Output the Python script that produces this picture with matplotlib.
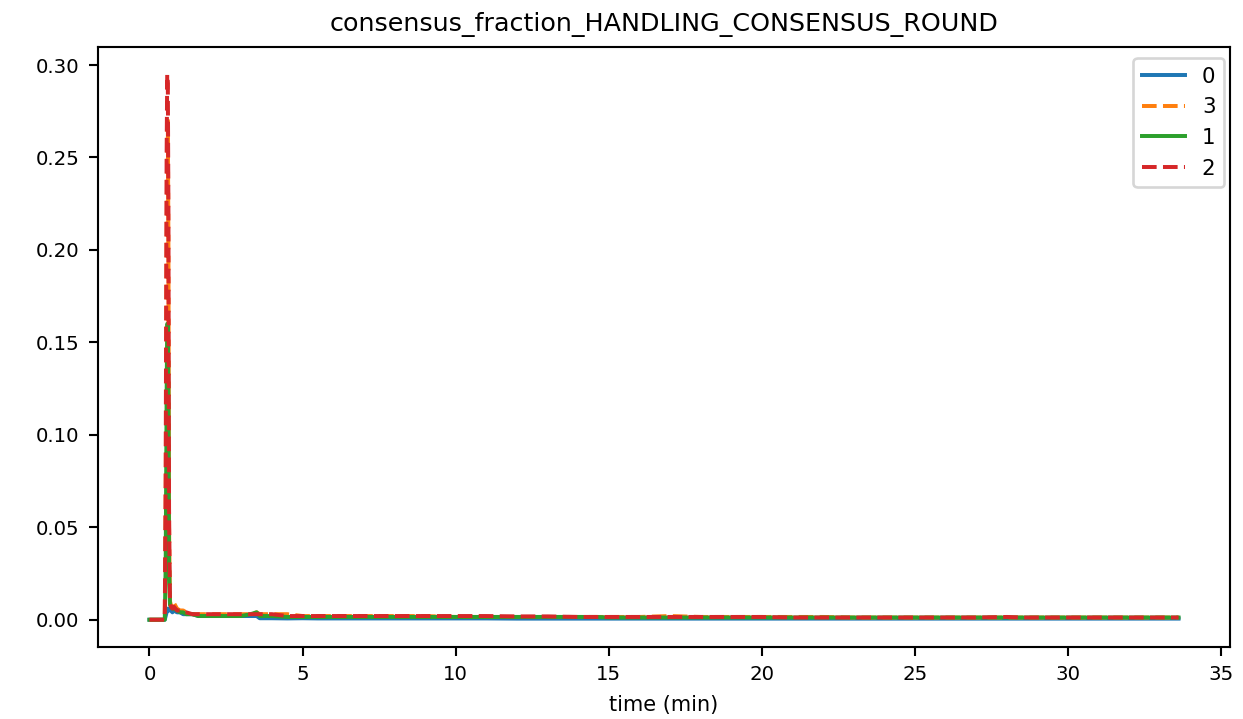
import matplotlib
matplotlib.use("Agg")
import matplotlib.pyplot as plt

time_min = [0.0, 0.3, 0.5, 0.53, 0.56, 0.58, 0.6, 0.62, 0.64, 0.67, 0.7, 0.75, 0.8, 0.9, 1.0,
            1.1, 1.2, 1.4, 1.6, 1.8, 2.0, 2.5, 3.0, 3.3, 3.5, 3.6, 4.0, 4.5, 5.0, 5.5,
            6.0, 6.5, 7.0, 8.0, 9.0, 10.0, 11.0, 12.0, 13.0, 14.0, 14.6, 15.0, 16.0, 17.0,
            18.0, 19.0, 20.0, 21.0, 22.0, 23.0, 24.0, 25.0, 26.0, 27.0, 28.0, 28.5, 29.0,
            30.0, 31.0, 32.0, 33.0, 33.6]

s0 = [0.0, 0.0, 0.0, 0.002, 0.004, 0.005, 0.006, 0.005, 0.005, 0.006, 0.005, 0.004, 0.005, 0.004, 0.004,
      0.003, 0.003, 0.003, 0.002, 0.002, 0.002, 0.002, 0.002, 0.002, 0.002, 0.0008, 0.0008, 0.0007, 0.0008, 0.0007,
      0.0007, 0.0007, 0.0007, 0.0007, 0.0007, 0.0007, 0.0007, 0.0006, 0.0006, 0.0006, 0.0006, 0.0006, 0.0006, 0.0006,
      0.0006, 0.0006, 0.0006, 0.0006, 0.0006, 0.0006, 0.0006, 0.0006, 0.0006, 0.0006, 0.0006, 0.0006, 0.0006,
      0.0006, 0.0006, 0.0006, 0.0006, 0.0006]

s3 = [0.0, 0.0, 0.0, 0.06, 0.2, 0.27, 0.27, 0.2, 0.05, 0.01, 0.008, 0.007, 0.009, 0.006, 0.005,
      0.005, 0.004, 0.003, 0.003, 0.003, 0.003, 0.003, 0.003, 0.003, 0.004, 0.003, 0.003, 0.003, 0.002, 0.002,
      0.002, 0.002, 0.002, 0.002, 0.002, 0.0015, 0.0015, 0.0015, 0.0015, 0.0015, 0.0015, 0.0015, 0.0015, 0.002,
      0.0015, 0.0015, 0.0015, 0.0015, 0.0015, 0.0012, 0.0012, 0.0012, 0.0012, 0.0012, 0.0012, 0.0012, 0.0012,
      0.0012, 0.0012, 0.0012, 0.0012, 0.0012]

s1 = [0.0, 0.0, 0.0, 0.03, 0.12, 0.16, 0.16, 0.12, 0.03, 0.008, 0.007, 0.006, 0.006, 0.005, 0.004,
      0.004, 0.003, 0.003, 0.002, 0.002, 0.002, 0.002, 0.002, 0.003, 0.004, 0.002, 0.002, 0.0015, 0.0015, 0.0015,
      0.0015, 0.0015, 0.0015, 0.0015, 0.0015, 0.0015, 0.0015, 0.0015, 0.0015, 0.0015, 0.0015, 0.0012, 0.0012, 0.0012,
      0.0012, 0.0012, 0.0012, 0.0012, 0.0012, 0.0012, 0.0012, 0.0012, 0.0012, 0.0012, 0.0012, 0.0012, 0.0012,
      0.0012, 0.0012, 0.0012, 0.0012, 0.0012]

s2 = [0.0, 0.0, 0.0, 0.08, 0.25, 0.295, 0.29, 0.22, 0.06, 0.01, 0.007, 0.006, 0.007, 0.005, 0.005,
      0.004, 0.004, 0.003, 0.003, 0.003, 0.003, 0.003, 0.003, 0.003, 0.003, 0.003, 0.003, 0.002, 0.002, 0.002,
      0.002, 0.002, 0.002, 0.002, 0.002, 0.002, 0.002, 0.0018, 0.0018, 0.0015, 0.0015, 0.0015, 0.0015, 0.0015,
      0.0015, 0.0015, 0.0015, 0.0012, 0.0012, 0.0012, 0.0012, 0.0012, 0.0012, 0.0012, 0.0015, 0.0012, 0.0012,
      0.0012, 0.0012, 0.0012, 0.0012, 0.0012]

series_labels = ["0", "3", "1", "2"]
series_values = [s0, s3, s1, s2]
series_styles = ["-", "--", "-", "--"]
series_colors = ["#1f77b4", "#ff7f0e", "#2ca02c", "#d62728"]

dpi = 190
fig = plt.figure(figsize=(1243 / dpi, 719 / dpi), dpi=dpi)
ax = fig.add_axes([98 / 1243, 1 - 647 / 719, (1230 - 98) / 1243, (647 - 47) / 719])
for lab, vals, ls, col in zip(series_labels, series_values, series_styles, series_colors):
    ax.plot(time_min, vals, ls, color=col, label=lab, linewidth=1.5)
ax.set_title("consensus_fraction_HANDLING_CONSENSUS_ROUND", fontsize=9.6)
ax.set_xlabel("time (min)", fontsize=7.9)
ax.tick_params(labelsize=7.5)
ax.legend(loc="upper right", fontsize=8.1, bbox_to_anchor=(1224 / 1243, 1 - 58 / 719),
          bbox_transform=fig.transFigure, borderaxespad=0)
fig.savefig("out.png", dpi=dpi)
